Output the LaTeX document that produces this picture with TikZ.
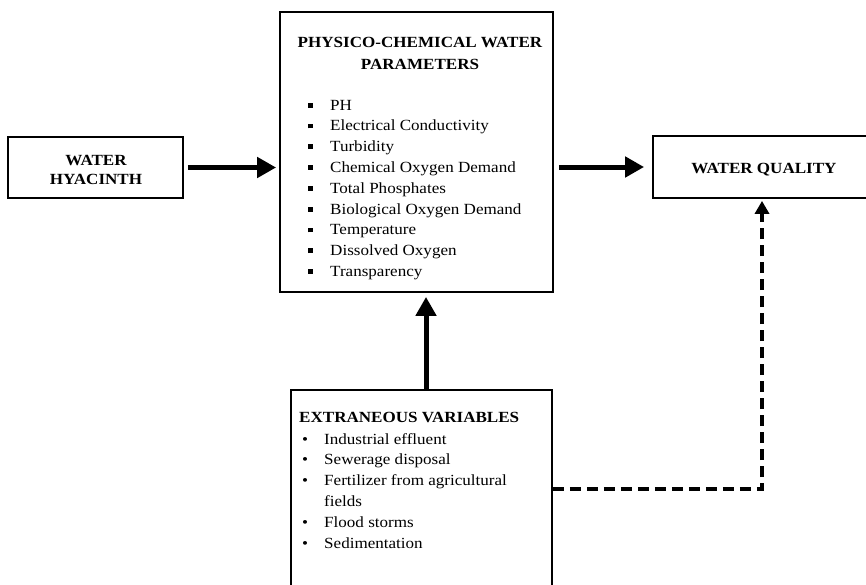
\documentclass[tikz,border=0pt]{standalone}
\usepackage{fontspec}
\setmainfont{Liberation Serif}[FakeStretch=1.1]
\usetikzlibrary{arrows.meta}
\newcommand\sqbul{\rule[2.5pt]{4.8pt}{4.8pt}}
\begin{document}
\begin{tikzpicture}[x=1pt,y=-1pt,
  box/.style={draw, line width=1.8pt, minimum width=#1, inner sep=0pt},
  txt/.style={inner sep=0pt, font=\fontsize{15.5}{18}\selectfont},
  ttl/.style={txt, font=\fontsize{15.5}{18}\selectfont\bfseries},
  bigarrow/.style={line width=5pt, -{Triangle[length=19pt,width=20pt]}},
  dasharrow/.style={line width=4pt, dash pattern=on 11pt off 6pt, -{Triangle[length=13pt,width=14pt]}}]
\clip (0,0) rectangle (866,584);
\fill[white] (0,0) rectangle (866,584);
% boxes
\node[box=175pt, minimum height=61pt] (hy) at (95.5,167.5) {};
\node[box=273pt, minimum height=280pt] (ph) at (416.5,152) {};
\node[box=247pt, minimum height=62pt] (q) at (776.5,167) {};
\node[box=261pt, minimum height=230pt] (ex) at (421.5,505) {};
% texts
\node[ttl, anchor=base] (hyt1) at (96,165) {WATER};
\node[ttl, anchor=base] (hyt2) at (96,184) {HYACINTH};
\node[ttl, anchor=base] (qt) at (764,173) {WATER QUALITY};
\node[ttl, anchor=base] (pt1) at (420,47.5) {PHYSICO-CHEMICAL WATER};
\node[ttl, anchor=base] (pt2) at (420,69) {PARAMETERS};
\foreach \t [count=\i] in {PH, Electrical Conductivity, Turbidity, Chemical Oxygen Demand, Total Phosphates, Biological Oxygen Demand, Temperature, Dissolved Oxygen, Transparency}
  \node[txt, anchor=base west] (pi\i) at (308,{110+20.8*(\i-1)}) {\makebox[22pt][l]{\sqbul}\t};
\node[ttl, anchor=base west] (et) at (299,422) {EXTRANEOUS VARIABLES};
\foreach \t/\b [count=\i] in {Industrial effluent/1, Sewerage disposal/1, Fertilizer from agricultural/1, fields/0, Flood storms/1, Sedimentation/1}
  \node[txt, anchor=base west] (ei\i) at (302,{444+20.8*(\i-1)}) {\makebox[22pt][l]{\ifnum\b=1 \textbullet\fi}\t};
% connectors
\draw[bigarrow] ([xshift=4pt]hy.east) -- ([xshift=-3pt]hy.east -| ph.west);
\draw[bigarrow] ([xshift=5pt]q.west -| ph.east) -- ([xshift=-8pt]q.west);
\draw[bigarrow] ([xshift=4.5pt]ex.north) -- ([xshift=4.5pt,yshift=-4pt]ex.north |- ph.south);
\draw[dasharrow] ([yshift=16pt]ex.east) -| ([xshift=-14.5pt,yshift=-2pt]q.south);
\end{tikzpicture}
\end{document}
